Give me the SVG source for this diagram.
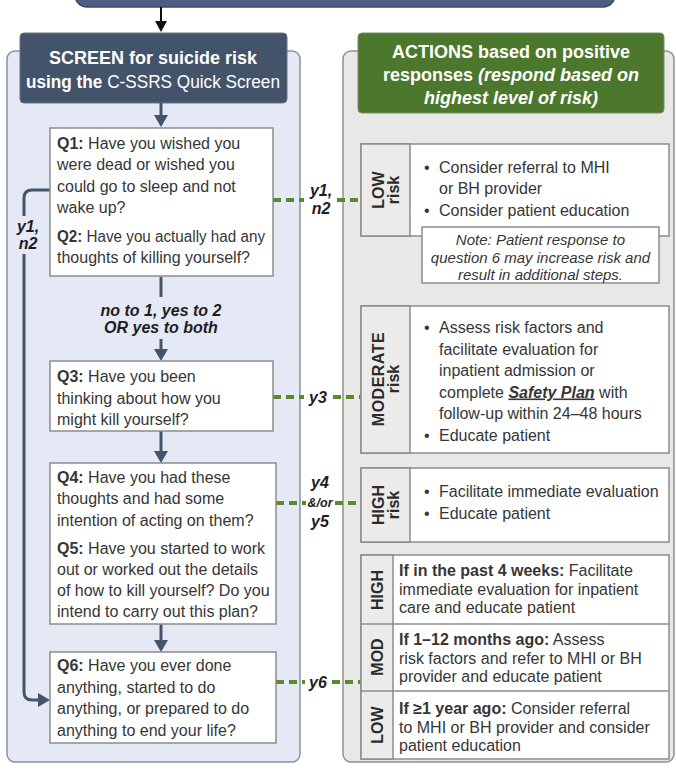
<svg xmlns="http://www.w3.org/2000/svg" width="676" height="769" viewBox="0 0 676 769">
<defs>
<style>
text { font-family: "Liberation Sans", Arial, sans-serif; }
.t { font-size:16px; fill:#363636; }
.b { font-weight:bold; }
.i { font-style:italic; }
.hd { font-size:18px; fill:#ffffff; font-weight:bold; text-anchor:middle; }
.lbl { font-size:16px; font-weight:bold; font-style:italic; fill:#1e1e1e; text-anchor:middle; }
.sm { font-size:12.5px; }
.note { font-size:15px; font-style:italic; fill:#363636; text-anchor:middle; }
.rot { font-size:16px; font-weight:bold; fill:#2b2b2b; text-anchor:middle; }
.box { fill:#ffffff; stroke:#8c8c8c; stroke-width:1.5; }
.cell { fill:#ebebe9; stroke:#8c8c8c; stroke-width:1.5; }
.flow { stroke:#44546b; stroke-width:3; fill:none; }
.dash { stroke:#5b8a2e; stroke-width:4; stroke-dasharray:8 5; fill:none; }
</style>
<marker id="ah" markerUnits="userSpaceOnUse" markerWidth="14" markerHeight="14" refX="1" refY="7" orient="auto">
<path d="M0,0 L12,7 L0,14 Z" fill="#44546b"/>
</marker>
</defs>

<!-- top box -->
<g id="top">
<rect x="75" y="-25" width="540" height="32" rx="12" fill="#4c5d84" stroke="#3b4a6b" stroke-width="1.5"/>
</g>

<!-- panels -->
<g id="screen-panel">
<rect x="7" y="51" width="293" height="711" rx="8" fill="#e5e8f5" stroke="#8b909b" stroke-width="1.5"/>
</g>
<g id="actions-panel">
<rect x="343" y="51" width="331" height="711" rx="8" fill="#e8e9e6" stroke="#8e9389" stroke-width="1.5"/>
</g>

<g id="screen-header">
<rect x="20" y="33" width="267" height="70" rx="4" fill="#43536a" stroke="#6b7383" stroke-width="1"/>
<text class="hd" x="153" y="64">SCREEN for suicide risk</text>
<text class="hd" x="153" y="88" textLength="254" lengthAdjust="spacingAndGlyphs">using the <tspan font-weight="normal">C-SSRS Quick Screen</tspan></text>
</g>

<g id="actions-header">
<rect x="358" y="33" width="306" height="80" rx="4" fill="#4b782c" stroke="#7a8a70" stroke-width="1"/>
<text class="hd" x="511" y="58">ACTIONS based on positive</text>
<text class="hd" x="511" y="81">responses <tspan font-style="italic">(respond based on</tspan></text>
<text class="hd" x="511" y="104" font-style="italic">highest level of risk)</text>
</g>

<!-- connectors -->
<g id="connectors">
<line x1="161" y1="7" x2="161" y2="22" stroke="#111" stroke-width="2"/>
<polygon points="155,21 167,21 161,32" fill="#111"/>
<line class="flow" x1="161" y1="103" x2="161" y2="116" marker-end="url(#ah)"/>
<line class="flow" x1="161" y1="277" x2="161" y2="297"/>
<line class="flow" x1="161" y1="339" x2="161" y2="350" marker-end="url(#ah)"/>
<line class="flow" x1="161" y1="431" x2="161" y2="452" marker-end="url(#ah)"/>
<line class="flow" x1="161" y1="624" x2="161" y2="641" marker-end="url(#ah)"/>
<path class="flow" d="M50,190 H32 Q24,190 24,198 V216"/>
<path class="flow" d="M24,254 V692 Q24,700 32,700 H39" marker-end="url(#ah)"/>
<text class="lbl" x="28" y="232">y1,</text>
<text class="lbl" x="28" y="249">n2</text>
<text class="lbl" x="161" y="316">no to 1, yes to 2</text>
<text class="lbl" x="161" y="333">OR yes to both</text>

<path class="dash" d="M273,200 H304 M337,200 H361"/>
<text class="lbl" x="321" y="196">y1,</text>
<text class="lbl" x="321" y="214">n2</text>
<path class="dash" d="M273,397 H304 M333,397 H361"/>
<text class="lbl" x="318" y="403">y3</text>
<path class="dash" d="M276,503 H306 M335,503 H361"/>
<text class="lbl" x="320" y="488">y4</text>
<text class="lbl sm" x="320" y="507">&amp;/or</text>
<text class="lbl" x="320" y="527">y5</text>
<path class="dash" d="M276,682 H305 M332,682 H361"/>
<text class="lbl" x="318" y="688">y6</text>
</g>

<!-- question nodes -->
<g id="q1q2">
<rect class="box" x="50" y="128" width="223" height="148"/>
<text class="t" x="57" y="149"><tspan class="b">Q1:</tspan> Have you wished you</text>
<text class="t" x="57" y="170">were dead or wished you</text>
<text class="t" x="57" y="191.5">could go to sleep and not</text>
<text class="t" x="57" y="213">wake up?</text>
<text class="t" x="57" y="242" textLength="208" lengthAdjust="spacingAndGlyphs"><tspan class="b">Q2:</tspan> Have you actually had any</text>
<text class="t" x="57" y="263">thoughts of killing yourself?</text>
</g>

<g id="q3">
<rect class="box" x="50" y="361" width="223" height="70"/>
<text class="t" x="57" y="382"><tspan class="b">Q3:</tspan> Have you been</text>
<text class="t" x="57" y="403.5">thinking about how you</text>
<text class="t" x="57" y="425">might kill yourself?</text>
</g>

<g id="q4q5">
<rect class="box" x="50" y="463" width="226" height="161"/>
<text class="t" x="57" y="483"><tspan class="b">Q4:</tspan> Have you had these</text>
<text class="t" x="57" y="504">thoughts and had some</text>
<text class="t" x="57" y="525.5">intention of acting on them?</text>
<text class="t" x="57" y="554"><tspan class="b">Q5:</tspan> Have you started to work</text>
<text class="t" x="57" y="575">out or worked out the details</text>
<text class="t" x="57" y="596">of how to kill yourself? Do you</text>
<text class="t" x="57" y="617">intend to carry out this plan?</text>
</g>

<g id="q6">
<rect class="box" x="50" y="652" width="226" height="91"/>
<text class="t" x="57" y="671"><tspan class="b">Q6:</tspan> Have you ever done</text>
<text class="t" x="57" y="692.5">anything, started to do</text>
<text class="t" x="57" y="714">anything, or prepared to do</text>
<text class="t" x="57" y="735.5">anything to end your life?</text>
</g>

<!-- action nodes -->
<g id="low-risk">
<rect class="box" x="361" y="144" width="308" height="92"/>
<rect class="cell" x="361" y="144" width="49" height="92"/>
<g transform="translate(385.5,190) rotate(-90)">
<text class="rot" x="0" y="-2">LOW</text>
<text class="rot" x="0" y="13">risk</text>
</g>
<text class="t" x="424" y="173">•</text><text class="t" x="439" y="173">Consider referral to MHI</text>
<text class="t" x="439" y="194">or BH provider</text>
<text class="t" x="424" y="216">•</text><text class="t" x="439" y="216">Consider patient education</text>
</g>

<g id="note">
<rect class="box" x="422" y="227" width="237" height="56"/>
<text class="note" x="540.5" y="245">Note: Patient response to</text>
<text class="note" x="540.5" y="262.5">question 6 may increase risk and</text>
<text class="note" x="540.5" y="280">result in additional steps.</text>
</g>

<g id="moderate-risk">
<rect class="box" x="361" y="306" width="308" height="147"/>
<rect class="cell" x="361" y="306" width="49" height="147"/>
<g transform="translate(385.5,379) rotate(-90)">
<text class="rot" x="0" y="-2" letter-spacing="0.5">MODERATE</text>
<text class="rot" x="0" y="13">risk</text>
</g>
<text class="t" x="424" y="333">•</text><text class="t" x="439" y="333">Assess risk factors and</text>
<text class="t" x="439" y="354.5">facilitate evaluation for</text>
<text class="t" x="439" y="376">inpatient admission or</text>
<text class="t" x="439" y="397.5">complete <tspan class="b i" text-decoration="underline">Safety Plan</tspan> with</text>
<text class="t" x="439" y="419">follow-up within 24–48 hours</text>
<text class="t" x="424" y="441">•</text><text class="t" x="439" y="441">Educate patient</text>
</g>

<g id="high-risk">
<rect class="box" x="361" y="468" width="308" height="74"/>
<rect class="cell" x="361" y="468" width="49" height="74"/>
<g transform="translate(385.5,505) rotate(-90)">
<text class="rot" x="0" y="-2">HIGH</text>
<text class="rot" x="0" y="13">risk</text>
</g>
<text class="t" x="424" y="497">•</text><text class="t" x="439" y="497">Facilitate immediate evaluation</text>
<text class="t" x="424" y="519">•</text><text class="t" x="439" y="519">Educate patient</text>
</g>

<g id="q6-table">
<rect class="box" x="361" y="555" width="308" height="204"/>
<rect class="cell" x="361" y="555" width="32" height="204"/>
<line x1="361" y1="624" x2="669" y2="624" stroke="#8c8c8c" stroke-width="1.5"/>
<line x1="361" y1="691" x2="669" y2="691" stroke="#8c8c8c" stroke-width="1.5"/>
<text class="rot" transform="translate(383,590) rotate(-90)" x="0" y="0">HIGH</text>
<text class="rot" transform="translate(383,657) rotate(-90)" x="0" y="0">MOD</text>
<text class="rot" transform="translate(383,725) rotate(-90)" x="0" y="0">LOW</text>
<text class="t" x="399" y="576"><tspan class="b">If in the past 4 weeks:</tspan> Facilitate</text>
<text class="t" x="399" y="595">immediate evaluation for inpatient</text>
<text class="t" x="399" y="613">care and educate patient</text>
<text class="t" x="399" y="645"><tspan class="b">If 1–12 months ago:</tspan> Assess</text>
<text class="t" x="399" y="664">risk factors and refer to MHI or BH</text>
<text class="t" x="399" y="682">provider and educate patient</text>
<text class="t" x="399" y="714"><tspan class="b">If ≥1 year ago:</tspan> Consider referral</text>
<text class="t" x="399" y="733">to MHI or BH provider and consider</text>
<text class="t" x="399" y="751">patient education</text>
</g>
</svg>
